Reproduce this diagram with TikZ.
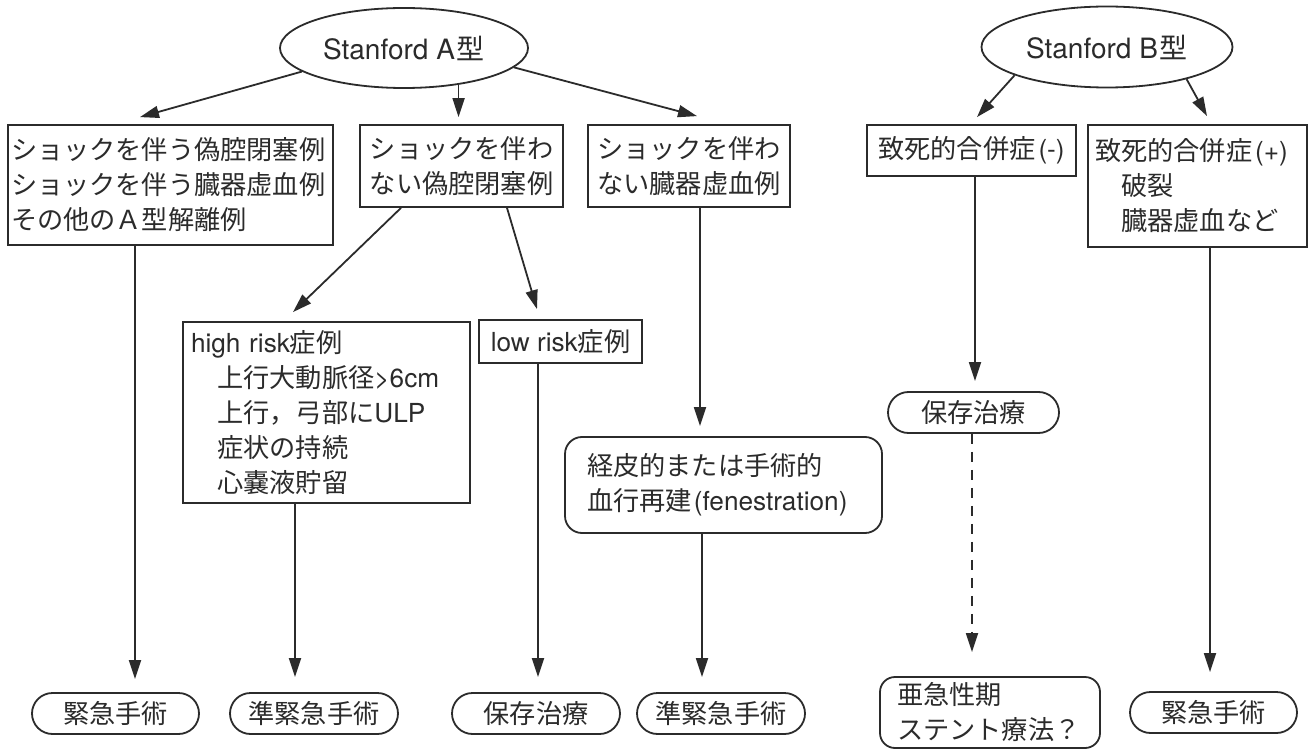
\documentclass[tikz,border=0pt]{standalone}
\usepackage{fontspec}
\setmainfont{TeX Gyre Heros}
\newfontfamily\jp{Noto Sans CJK JP}
\newfontfamily\lat{TeX Gyre Heros}
\usetikzlibrary{shapes.geometric,shapes.misc,arrows.meta}
\definecolor{ink}{HTML}{2B2B2B}
\begin{document}
\begin{tikzpicture}[x=1pt,y=-1pt,
  every node/.style={font=\jp\fontsize{26.2}{35}\selectfont, text=ink},
  frame/.style={draw=ink, line width=1.8pt, inner ysep=0pt},
  sq/.style={frame, rectangle},
  pill/.style={frame, rounded rectangle, minimum height=41pt, minimum width=168pt, inner xsep=0pt},
  oval/.style={frame, ellipse, inner sep=0pt},
  big/.style={font=\jp\fontsize{28}{35}\selectfont},
  arr/.style={draw=ink, line width=1.8pt, -{Triangle[length=19pt,width=12pt]}},
  dashline/.style={dash pattern=on 10pt off 8pt},
]
\fill[white] (0,0) rectangle (1310,749);
\useasboundingbox (0,0) rectangle (1310,749);

\node[oval, big, minimum width=248pt, minimum height=80pt] (eA) at (404,48) {{\lat Stanford A}\kern2pt 型};
\node[oval, big, minimum width=251pt, minimum height=81pt] (eB) at (1107,47) {{\lat Stanford B}\kern2pt 型};

\node[sq, text width=319pt, inner xsep=3pt, minimum height=120pt, align=left] (b1) at (170.5,185) {ショックを伴う偽腔閉塞例\\ショックを伴う臓器虚血例\\その他のＡ型解離例};
\node[sq, minimum width=203pt, minimum height=82pt, align=center] (b2) at (461.5,166) {ショックを伴わ\\ない偽腔閉塞例};
\node[sq, minimum width=202pt, minimum height=82pt, align=center] (b3) at (689,166) {ショックを伴わ\\ない臓器虚血例};
\node[sq, minimum width=209pt, minimum height=51pt] (bm) at (971.5,150.5) {致死的合併症{\lat\kern3pt(-)}};
\node[sq, text width=205pt, inner xsep=7pt, minimum height=122pt, align=left] (bp) at (1197.5,186) {致死的合併症{\lat\kern3pt(+)}\\\hspace*{1em}破裂\\\hspace*{1em}臓器虚血など};

\node[sq, text width=271pt, inner xsep=8pt, minimum height=181pt, align=left] (hr) at (326.5,412.5) {{\lat high risk}症例\\\hspace*{1em}上行大動脈径{\lat >6cm}\\\hspace*{1em}上行，弓部に{\lat ULP}\\\hspace*{1em}症状の持続\\\hspace*{1em}心嚢液貯留};
\node[sq, minimum width=163pt, minimum height=43pt] (lr) at (560.5,341.5) {{\lat low risk}症例};
\node[sq, rounded corners=17pt, text width=273pt, inner xsep=22pt, minimum height=96pt, align=left] (fen) at (723.5,485) {経皮的または手術的\\血行再建{\lat\kern2pt(fenestration)}};
\node[sq, rounded corners=15pt, text width=186pt, inner xsep=17pt, minimum height=71pt, align=left] (st) at (990,712.5) {亜急性期\\ステント療法？};

\node[pill, minimum width=167pt] (p1) at (115.5,713.5) {緊急手術};
\node[pill] (p2) at (314,713.5) {準緊急手術};
\node[pill] (p3) at (536,713.5) {保存治療};
\node[pill] (p4) at (721,713.5) {準緊急手術};
\node[pill, minimum width=171pt] (cB) at (973.5,412.5) {保存治療};
\node[pill, minimum width=167pt] (pB) at (1213.5,712.5) {緊急手術};

\draw[arr] (eA.193) -- ([xshift=-30.5pt,yshift=7pt]b1.north);
\draw[arr, shorten >=7pt] (eA.326) -- (eA.326 |- b2.north);
\draw[arr] (eA.350) -- ([xshift=8pt,yshift=8pt]b3.north);
\draw[arr] (eB.197) -- ([xshift=5.5pt,yshift=7pt]bm.north);
\draw[arr] (eB.338) -- ([xshift=9.5pt,yshift=8pt]bp.north);
\draw[arr, shorten >=13pt] ([xshift=-35.5pt]b1.south) -- ([xshift=-35.5pt]b1.south |- p1.north);
\draw[arr] ([xshift=-60.5pt]b2.south) -- ([xshift=-33.5pt,yshift=9pt]hr.north);
\draw[arr] ([xshift=45.5pt]b2.south) -- ([xshift=-23.5pt,yshift=10pt]lr.north);
\draw[arr, shorten >=10pt] ([xshift=11pt]b3.south) -- ([xshift=11pt]b3.south |- fen.north);
\draw[arr, shorten >=15pt] ([xshift=-31.5pt]hr.south) -- ([xshift=-31.5pt]hr.south |- p2.north);
\draw[arr, shorten >=15pt] ([xshift=-22.5pt]lr.south) -- ([xshift=-22.5pt]lr.south |- p3.north);
\draw[arr, shorten >=15pt] ([xshift=-21.5pt]fen.south) -- ([xshift=-21.5pt]fen.south |- p4.north);
\draw[arr, shorten >=10pt] ([xshift=3.5pt]bm.south) -- ([xshift=3.5pt]bm.south |- cB.north);
\draw[arr, dashline, shorten >=24pt] ([xshift=-1.5pt]cB.south) -- ([xshift=-1.5pt]cB.south |- st.north);
\draw[arr, shorten >=19pt] ([xshift=12.5pt]bp.south) -- ([xshift=12.5pt]bp.south |- pB.north);
\end{tikzpicture}
\end{document}
